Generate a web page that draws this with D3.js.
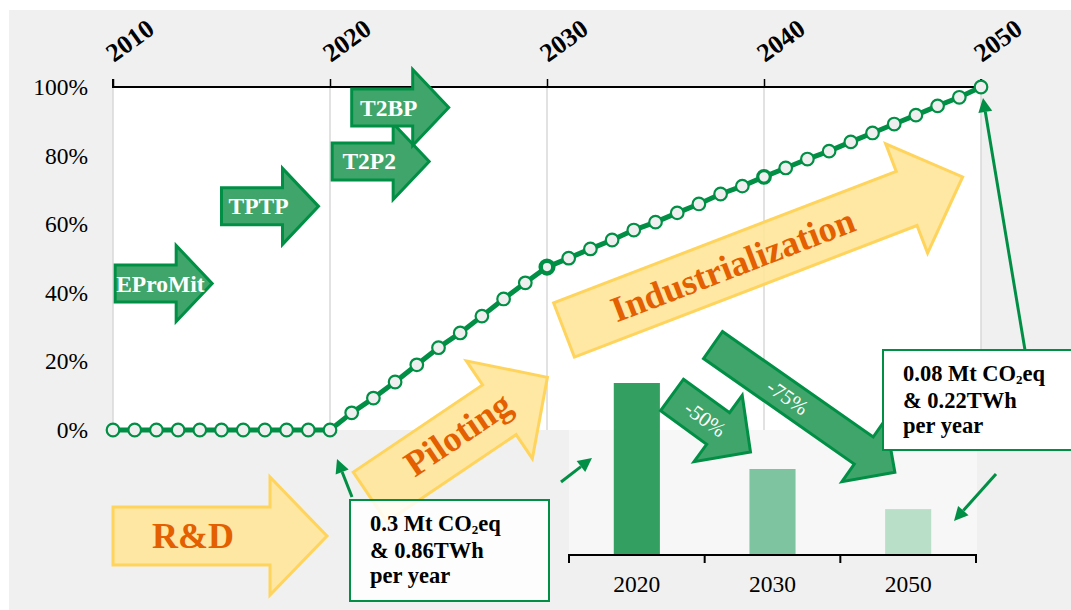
<!DOCTYPE html>
<html>
<head>
<meta charset="utf-8">
<script src="https://cdn.jsdelivr.net/npm/d3@7"></script>
<style>
  html, body { margin: 0; padding: 0; background: #ffffff; }
  svg { display: block; font-family: "Liberation Serif", "DejaVu Serif", serif; }
</style>
</head>
<body>
<svg id="chart" width="1071" height="610"></svg>
<script>
// ---- data ----------------------------------------------------------------
const years = [2010, 2011, 2012, 2013, 2014, 2015, 2016, 2017, 2018, 2019, 2020,
               2021, 2022, 2023, 2024, 2025, 2026, 2027, 2028, 2029, 2030,
               2031, 2032, 2033, 2034, 2035, 2036, 2037, 2038, 2039, 2040,
               2041, 2042, 2043, 2044, 2045, 2046, 2047, 2048, 2049, 2050];
const adoptionShare = [0, 0, 0, 0, 0, 0, 0, 0, 0, 0, 0,
                       5, 9.3, 14, 19, 24, 28.3, 33.2, 38.2, 42.9, 47.5,
                       50.1, 52.8, 55.4, 58.3, 60.6, 63.3, 65.9, 68.8, 71.1, 73.8,
                       76.4, 79, 81.3, 84, 86.6, 89.2, 91.8, 94.5, 97, 100];
const decadeTicks = [2010, 2020, 2030, 2040, 2050];
const shareTicks = [0, 20, 40, 60, 80, 100];

const projects = ["EProMit", "TPTP", "T2P2", "T2BP"];
const projectStartYear = [2010.1, 2015, 2020.1, 2021];
const projectLevel = [42.7, 65.2, 78.3, 94];

const barYears = ["2020", "2030", "2050"];
const barEmissions = [0.3, 0.15, 0.08];   // Mt CO2eq per year

const phases = ["R&D", "Piloting", "Industrialization"];
const reductions = ["-50%", "-75%"];

// ---- layout --------------------------------------------------------------
const W = 1071, H = 610;
const GREEN = "#008f45";
const PROJECT_FILL = "#40a56b";
const YELLOW_FILL = "#ffe49a";
const YELLOW_STROKE = "#ffd45c";
const ORANGE = "#e35f00";
const BG = "#f0f0f0";

const svg = d3.select("#chart");

const x = d3.scaleLinear().domain([2010, 2050]).range([113, 981]);
const y = d3.scaleLinear().domain([0, 100]).range([430, 87]);

// inset bar chart scales
const xb = d3.scaleBand().domain(barYears).range([569, 976])
  .paddingInner(0.66).paddingOuter(0.33);
const yb = d3.scaleLinear().domain([0, 0.3]).range([555, 383]);

// block-arrow outline pointing along +x, tail centred on the origin
function arrowPath(len, bw, hw, hl) {
  const b = len - hl;
  return `M0,${-bw / 2}L${b},${-bw / 2}L${b},${-hw / 2}L${len},0L${b},${hw / 2}L${b},${bw / 2}L0,${bw / 2}Z`;
}

// ---- backgrounds -----------------------------------------------------------
svg.append("rect").attr("x", 9).attr("y", 10).attr("width", W - 9).attr("height", H - 10).attr("fill", BG);
svg.append("rect")
  .attr("x", x(2010)).attr("y", y(100))
  .attr("width", x(2050) - x(2010)).attr("height", y(0) - y(100))
  .attr("fill", "#ffffff");
svg.append("rect")
  .attr("x", xb.range()[0]).attr("y", y(0))
  .attr("width", xb.range()[1] - xb.range()[0] + 1).attr("height", yb(0) - y(0))
  .attr("fill", "#f7f7f7");

// vertical grid lines
svg.append("g").selectAll("line").data(decadeTicks).join("line")
  .attr("x1", d => x(d)).attr("x2", d => x(d))
  .attr("y1", y(100)).attr("y2", y(0))
  .attr("stroke", "#d9d9d9").attr("stroke-width", 1.5);

// top time axis
const topAxis = svg.append("g").attr("transform", `translate(0,${y(100)})`)
  .call(d3.axisTop(x).tickValues(decadeTicks).tickSize(8).tickFormat(""));
topAxis.select(".domain").attr("stroke", "#000").attr("stroke-width", 2)
  .attr("d", `M${x(2010)},-8V0H${x(2050)}V-8`);
topAxis.selectAll(".tick line").attr("stroke", "#000").attr("stroke-width", 1.5);

svg.append("g").selectAll("text").data(decadeTicks).join("text")
  .attr("transform", d => `translate(${x(d) + 1},63) rotate(-36)`)
  .attr("font-size", 26).attr("font-weight", "bold").attr("fill", "#000")
  .text(d => d);

// left share labels
const leftAxis = svg.append("g").attr("transform", `translate(${x(2010)},0)`)
  .call(d3.axisLeft(y).tickValues(shareTicks).tickSize(0).tickPadding(25).tickFormat(d => d + "%"));
leftAxis.select(".domain").remove();
leftAxis.selectAll("text")
  .attr("font-family", "Liberation Serif, serif").attr("font-size", 23.5).attr("fill", "#000");

// ---- project arrows ---------------------------------------------------------
const proj = svg.append("g").selectAll("g").data(projects).join("g")
  .attr("transform", (d, i) => `translate(${x(projectStartYear[i])},${y(projectLevel[i])})`);
proj.append("path")
  .attr("d", arrowPath(97, 37, 76, 36))
  .attr("fill", PROJECT_FILL).attr("stroke", GREEN).attr("stroke-width", 3)
  .attr("stroke-linejoin", "miter");
proj.append("text")
  .attr("x", (d, i) => i === 0 ? 1 : 37)
  .attr("text-anchor", (d, i) => i === 0 ? "start" : "middle")
  .attr("y", 8)
  .attr("font-size", 23.5).attr("font-weight", "bold").attr("fill", "#ffffff")
  .text(d => d);

// ---- phase arrows -------------------------------------------------------------
const phaseGeom = [
  { x: 113, y: 536, angle: 0,   len: 214, bw: 58, hw: 118, hl: 57, at: 80,  off: 0 },
  { x: 370, y: 497, angle: -34, len: 214, bw: 60, hw: 118, hl: 58, at: 108, off: 3 },
  { x: 564, y: 330, angle: -21, len: 427, bw: 58, hw: 117, hl: 60, at: 181, off: 0 }
];
const phaseG = svg.append("g").selectAll("g").data(phases).join("g")
  .attr("transform", (d, i) => `translate(${phaseGeom[i].x},${phaseGeom[i].y}) rotate(${phaseGeom[i].angle})`);
phaseG.append("path")
  .attr("d", (d, i) => arrowPath(phaseGeom[i].len, phaseGeom[i].bw, phaseGeom[i].hw, phaseGeom[i].hl))
  .attr("fill", YELLOW_FILL).attr("fill-opacity", 0.9)
  .attr("stroke", YELLOW_STROKE).attr("stroke-width", 3);
phaseG.append("text")
  .attr("x", (d, i) => phaseGeom[i].at).attr("y", (d, i) => 12 - phaseGeom[i].off)
  .attr("text-anchor", "middle")
  .attr("font-size", 36).attr("font-weight", "bold").attr("fill", ORANGE)
  .text(d => d);

// ---- adoption line ------------------------------------------------------------
const pts = years.map((yr, i) => [yr, adoptionShare[i]]);
svg.append("path").datum(pts)
  .attr("d", d3.line().x(d => x(d[0])).y(d => y(d[1])))
  .attr("fill", "none").attr("stroke", GREEN).attr("stroke-width", 5)
  .attr("stroke-linejoin", "round");
svg.append("g").selectAll("circle").data(pts).join("circle")
  .attr("cx", d => x(d[0])).attr("cy", d => y(d[1]))
  .attr("r", 6.3)
  .attr("fill", "#efefef").attr("stroke", GREEN)
  .attr("stroke-width", d => d[0] === 2030 ? 4.5 : (d[0] === 2040 ? 3.2 : 2.2));

// ---- inset bar chart ------------------------------------------------------------
const barFills = ["#33a062", "#7ec4a0", "#badfc9"];
svg.append("g").selectAll("rect").data(barYears).join("rect")
  .attr("x", d => xb(d)).attr("width", xb.bandwidth())
  .attr("y", (d, i) => yb(barEmissions[i]))
  .attr("height", (d, i) => yb(0) - yb(barEmissions[i]))
  .attr("fill", (d, i) => barFills[i]);

const bottomAxis = svg.append("g").attr("transform", `translate(0,${yb(0)})`)
  .call(d3.axisBottom(xb).tickSize(0).tickPadding(20));
bottomAxis.select(".domain").attr("stroke", "#000").attr("stroke-width", 2)
  .attr("d", `M${xb.range()[0]},8V0H${xb.range()[1]}V8`);
bottomAxis.selectAll("text").attr("font-family", "Liberation Serif, serif")
  .attr("font-size", 23.5).attr("fill", "#000");
bottomAxis.append("g").selectAll("line").data([1, 2]).join("line")
  .attr("x1", d => xb.range()[0] + d * xb.step()).attr("x2", d => xb.range()[0] + d * xb.step())
  .attr("y1", 0).attr("y2", 8).attr("stroke", "#000").attr("stroke-width", 2);

// ---- reduction arrows ----------------------------------------------------------
const redGeom = [
  { x: 672, y: 395, angle: 36, len: 97,  bw: 39, hw: 82, hl: 40, at: 41 },
  { x: 713, y: 345, angle: 35, len: 222, bw: 33, hw: 76, hl: 38, at: 91 }
];
const redG = svg.append("g").selectAll("g").data(reductions).join("g")
  .attr("transform", (d, i) => `translate(${redGeom[i].x},${redGeom[i].y}) rotate(${redGeom[i].angle})`);
redG.append("path")
  .attr("d", (d, i) => arrowPath(redGeom[i].len, redGeom[i].bw, redGeom[i].hw, redGeom[i].hl))
  .attr("fill", PROJECT_FILL).attr("stroke", GREEN).attr("stroke-width", 3);
redG.append("text")
  .attr("x", (d, i) => redGeom[i].at).attr("y", 7)
  .attr("text-anchor", "middle")
  .attr("font-size", 21).attr("fill", "#ffffff")
  .text(d => d);

// ---- callout boxes ----------------------------------------------------------
function callout(bx, by, bw, bh, mt, twh, opacity) {
  const g = svg.append("g");
  g.append("rect").attr("x", bx).attr("y", by).attr("width", bw).attr("height", bh)
    .attr("fill", "#ffffff").attr("fill-opacity", opacity)
    .attr("stroke", GREEN).attr("stroke-width", 2);
  const t = g.append("text").attr("font-size", 22.5).attr("font-weight", "bold").attr("fill", "#000");
  const l1 = t.append("tspan").attr("x", bx + 20).attr("y", by + 31);
  l1.append("tspan").text(`${mt} Mt CO`);
  l1.append("tspan").attr("font-size", 13).attr("dy", 2.5).text("2");
  l1.append("tspan").attr("dy", -2.5).text("eq");
  t.append("tspan").attr("x", bx + 20).attr("y", by + 58).text(`& ${twh}TWh`);
  t.append("tspan").attr("x", bx + 20).attr("y", by + 83).text("per year");
}
callout(350, 500, 199, 101, "0.3", "0.86", 0.85);
callout(883, 350, 200, 100, "0.08", "0.22", 1);

// ---- pointer arrows -----------------------------------------------------------
function pointer(x1, y1, x2, y2) {
  const a = Math.atan2(y2 - y1, x2 - x1);
  const hl = 14, hw = 7;
  const bx = x2 - hl * Math.cos(a), by = y2 - hl * Math.sin(a);
  svg.append("line").attr("x1", x1).attr("y1", y1).attr("x2", bx).attr("y2", by)
    .attr("stroke", GREEN).attr("stroke-width", 3);
  svg.append("path")
    .attr("d", `M${x2},${y2}L${bx - hw * Math.sin(a)},${by + hw * Math.cos(a)}L${bx + hw * Math.sin(a)},${by - hw * Math.cos(a)}Z`)
    .attr("fill", GREEN);
}
pointer(352, 497, 337, 459);
pointer(561, 482, 592, 458);
pointer(1025, 350, 983, 98);
pointer(996, 474, 954, 521);
</script>
</body>
</html>
